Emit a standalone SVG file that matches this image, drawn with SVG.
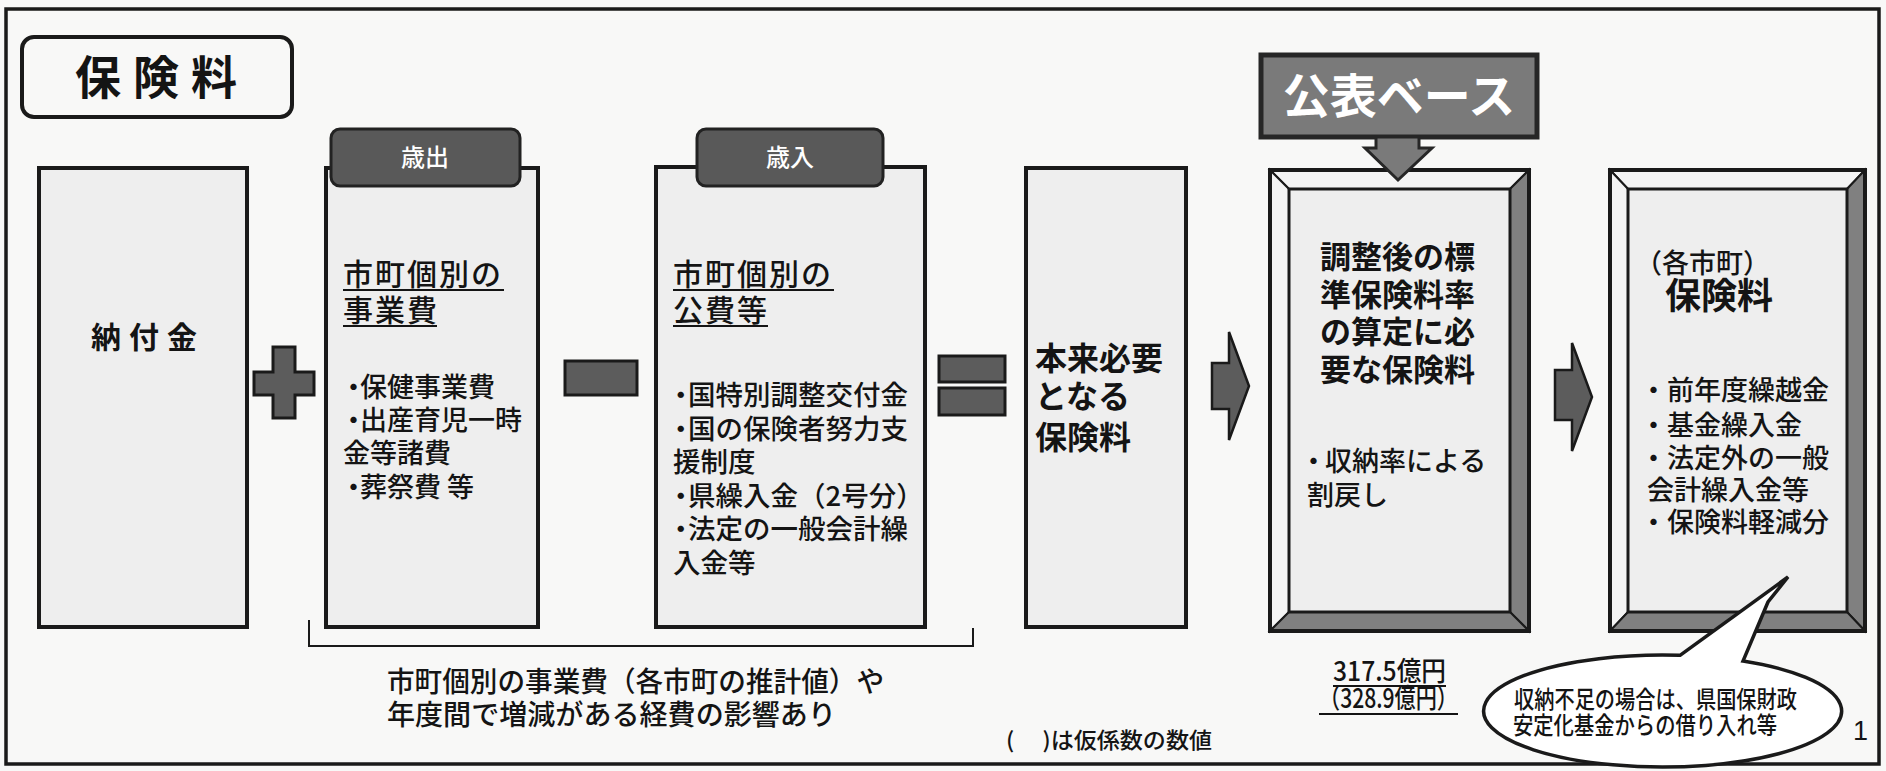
<svg xmlns="http://www.w3.org/2000/svg" width="1886" height="771" viewBox="0 0 1886 771">
<style>
.t{font-family:"Noto Sans CJK JP","Noto Sans",sans-serif;fill:#141414;font-weight:500}
.b{font-weight:bold}
.w{fill:#ffffff}
.box{fill:#eeeeee;stroke:#1a1a1a;stroke-width:4}
.op{fill:#5c5c5c;stroke:#1a1a1a;stroke-width:3}
.tab{fill:#595959;stroke:#222222;stroke-width:3}
.ul{stroke:#141414;stroke-width:2}
.bl{fill:#f4f4f4;stroke:#1a1a1a;stroke-width:2}
.bd{fill:#808080;stroke:#1a1a1a;stroke-width:2}
.arr{fill:#5c5c5c;stroke:#1a1a1a;stroke-width:2.5}
</style>
<rect x="0" y="0" width="1886" height="771" fill="#f8f8f7"/>
<rect x="6" y="9" width="1873" height="755" fill="none" stroke="#1a1a1a" stroke-width="3.5"/>

<g id="title">
<rect x="22" y="37" width="270" height="80" rx="12" fill="#f8f8f7" stroke="#1a1a1a" stroke-width="4"/>
<text class="t b" x="75" y="94" font-size="46" letter-spacing="12">保険料</text>
</g>

<g id="node-noufukin">
<rect class="box" x="39" y="168" width="208" height="459"/>
<text class="t b" x="91" y="348" font-size="30" letter-spacing="8">納付金</text>
</g>

<g id="op-plus">
<polygon class="op" points="273,347 295,347 295,372 314,372 314,395 295,395 295,418 273,418 273,395 254,395 254,372 273,372"/>
</g>

<g id="node-saishutsu">
<rect class="box" x="326" y="168" width="212" height="459"/>
<rect class="tab" x="331" y="129" width="189" height="57" rx="9"/>
<text class="t w" x="425" y="166" font-size="24" text-anchor="middle">歳出</text>
<text class="t" x="343" y="285" font-size="30" letter-spacing="2">市町個別の</text>
<line class="ul" x1="343" y1="290" x2="504" y2="290"/>
<text class="t" x="343" y="321" font-size="30" letter-spacing="2">事業費</text>
<line class="ul" x1="343" y1="326" x2="437" y2="326"/>
<text class="t" font-size="27"><tspan x="340" y="397">・</tspan><tspan dx="-7">保健事業費</tspan></text>
<text class="t" font-size="27"><tspan x="340" y="430">・</tspan><tspan dx="-7">出産育児一時</tspan></text>
<text class="t" font-size="27" x="343" y="463">金等諸費</text>
<text class="t" font-size="27"><tspan x="340" y="497">・</tspan><tspan dx="-7">葬祭費 等</tspan></text>
</g>

<g id="op-minus">
<rect class="op" x="565" y="361" width="72" height="34"/>
</g>

<g id="node-sainyu">
<rect class="box" x="656" y="167" width="269" height="460"/>
<rect class="tab" x="697" y="129" width="186" height="57" rx="9"/>
<text class="t w" x="790" y="166" font-size="24" text-anchor="middle">歳入</text>
<text class="t" x="673" y="285" font-size="30" letter-spacing="2">市町個別の</text>
<line class="ul" x1="673" y1="290" x2="834" y2="290"/>
<text class="t" x="673" y="321" font-size="30" letter-spacing="2">公費等</text>
<line class="ul" x1="673" y1="326" x2="768" y2="326"/>
<text class="t" font-size="27.5"><tspan x="667" y="405">・</tspan><tspan dx="-6.5">国特別調整交付金</tspan></text>
<text class="t" font-size="27.5"><tspan x="667" y="439">・</tspan><tspan dx="-6.5">国の保険者努力支</tspan></text>
<text class="t" font-size="27.5" x="673" y="472">援制度</text>
<text class="t" font-size="27.5"><tspan x="667" y="506">・</tspan><tspan dx="-6.5">県繰入金（2号分）</tspan></text>
<text class="t" font-size="27.5"><tspan x="667" y="539">・</tspan><tspan dx="-6.5">法定の一般会計繰</tspan></text>
<text class="t" font-size="27.5" x="673" y="573">入金等</text>
</g>

<g id="op-equals">
<rect class="op" x="939" y="356" width="66" height="26"/>
<rect class="op" x="939" y="388" width="66" height="27"/>
</g>

<g id="node-honrai">
<rect class="box" x="1026" y="168" width="160" height="459"/>
<text class="t b" x="1035" y="370" font-size="32">本来必要</text>
<text class="t b" x="1035" y="408" font-size="32">となる</text>
<text class="t b" x="1035" y="449" font-size="32">保険料</text>
</g>

<g id="node-kohyo-base">
<rect x="1261" y="55" width="276" height="82" fill="#7a7a7a" stroke="#262626" stroke-width="5"/>
<text class="t b w" x="1399" y="113" font-size="47" text-anchor="middle">公表ベース</text>
</g>

<g id="node-chosei">
<rect class="box" x="1270" y="170" width="259" height="461"/>
<polygon class="bl" points="1270,170 1529,170 1510,189 1289,189"/>
<polygon class="bl" points="1270,170 1289,189 1289,612 1270,631"/>
<polygon class="bd" points="1529,170 1529,631 1510,612 1510,189"/>
<polygon class="bd" points="1270,631 1289,612 1510,612 1529,631"/>
<rect x="1289" y="189" width="221" height="423" fill="#eeeeee" stroke="#1a1a1a" stroke-width="3"/>
<rect x="1270" y="170" width="259" height="461" fill="none" stroke="#1a1a1a" stroke-width="4"/>
<text class="t b" x="1320" y="268" font-size="31">調整後の標</text>
<text class="t b" x="1320" y="306" font-size="31">準保険料率</text>
<text class="t b" x="1320" y="343" font-size="31">の算定に必</text>
<text class="t b" x="1320" y="381" font-size="31">要な保険料</text>
<text class="t" font-size="27"><tspan x="1300" y="471">・</tspan><tspan dx="-2">収納率による</tspan></text>
<text class="t" x="1307" y="505" font-size="27">割戻し</text>
</g>

<g id="node-kakushicho">
<rect class="box" x="1610" y="170" width="255" height="461"/>
<polygon class="bl" points="1610,170 1865,170 1847,189 1628,189"/>
<polygon class="bl" points="1610,170 1628,189 1628,612 1610,631"/>
<polygon class="bd" points="1865,170 1865,631 1847,612 1847,189"/>
<polygon class="bd" points="1610,631 1628,612 1847,612 1865,631"/>
<rect x="1628" y="189" width="219" height="423" fill="#eeeeee" stroke="#1a1a1a" stroke-width="3"/>
<rect x="1610" y="170" width="255" height="461" fill="none" stroke="#1a1a1a" stroke-width="4"/>
<text class="t" x="1635" y="273" font-size="27">（各市町）</text>
<text class="t b" x="1665" y="309" font-size="36">保険料</text>
<text class="t" x="1640" y="400" font-size="27">・前年度繰越金</text>
<text class="t" x="1640" y="435" font-size="27">・基金繰入金</text>
<text class="t" x="1640" y="468" font-size="27">・法定外の一般</text>
<text class="t" x="1647" y="500" font-size="27">会計繰入金等</text>
<text class="t" x="1640" y="532" font-size="27">・保険料軽減分</text>
</g>

<g id="connectors">
<polygon points="1376,137 1419,137 1419,148 1432,148 1398,180 1365,148 1376,148" fill="#7a7a7a" stroke="#262626" stroke-width="3"/>
<polygon class="arr" points="1212,363 1229,363 1229,332 1249,386 1229,440 1229,409 1212,409"/>
<polygon class="arr" points="1555,370 1572,370 1572,343 1592,397 1572,451 1572,420 1555,420"/>
<polyline points="309,620 309,646 973,646 973,628" fill="none" stroke="#1a1a1a" stroke-width="2"/>
</g>

<g id="note-bracket">
<text class="t" x="387" y="692" font-size="28" textLength="497" lengthAdjust="spacingAndGlyphs">市町個別の事業費（各市町の推計値）や</text>
<text class="t" x="387" y="725" font-size="28" textLength="449" lengthAdjust="spacingAndGlyphs">年度間で増減がある経費の影響あり</text>
</g>

<g id="note-amount">
<text class="t" x="1333" y="681" font-size="27" textLength="113" lengthAdjust="spacingAndGlyphs">317.5億円</text>
<line class="ul" x1="1333" y1="686" x2="1446" y2="686"/>
<text class="t" x="1319" y="708" font-size="27" textLength="139" lengthAdjust="spacingAndGlyphs">（328.9億円）</text>
<line class="ul" x1="1319" y1="714" x2="1458" y2="714"/>
</g>

<g id="note-kari">
<text class="t" x="1006" y="748" font-size="22" textLength="206" lengthAdjust="spacingAndGlyphs">(　 )は仮係数の数値</text>
</g>

<g id="callout">
<path d="M1680,655.3 L1788,577 L1768,602 L1743,661 A179,56 0 1,1 1680,655.3 Z" fill="#ffffff" stroke="#1a1a1a" stroke-width="3.5"/>
<text class="t" x="1514" y="708" font-size="24" textLength="283" lengthAdjust="spacingAndGlyphs">収納不足の場合は、県国保財政</text>
<text class="t" x="1513" y="734" font-size="24" textLength="264" lengthAdjust="spacingAndGlyphs">安定化基金からの借り入れ等</text>
</g>

<g id="page-number">
<text x="1853" y="740" font-family="Liberation Sans, sans-serif" font-size="27" fill="#141414">1</text>
</g>
</svg>
